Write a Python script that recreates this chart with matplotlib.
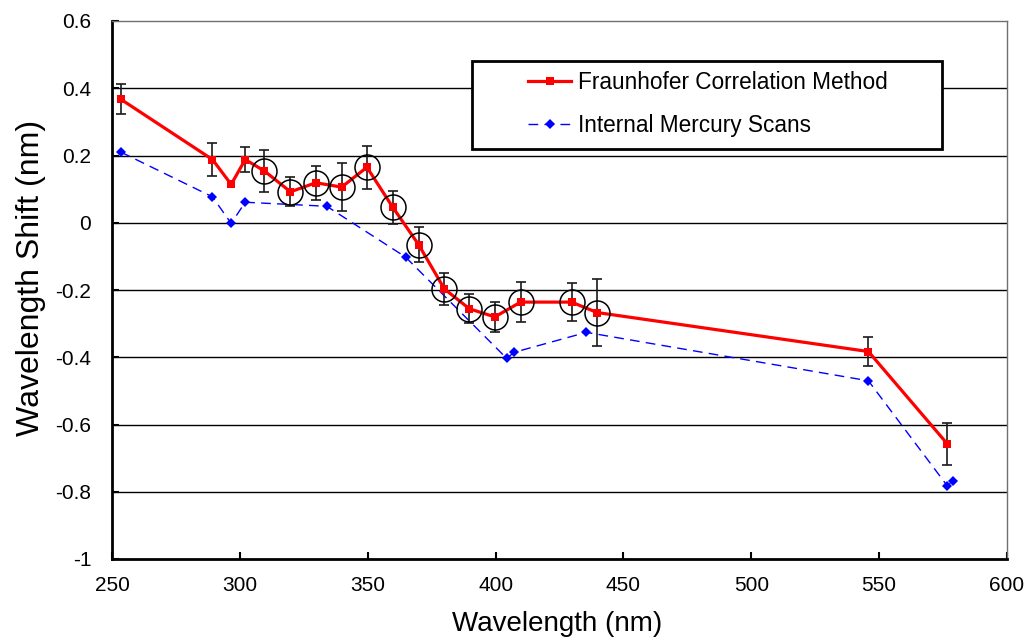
import matplotlib
matplotlib.use("Agg")
import matplotlib.pyplot as plt
import numpy as np
from matplotlib.patches import Rectangle

plt.rcParams['font.family'] = ['Liberation Sans', 'DejaVu Sans']
plt.rcParams['axes.unicode_minus'] = False

# Fraunhofer Correlation Method
fcm_wavelength = [253.5, 289.3, 296.6, 302.1, 309.6, 319.8, 329.7, 339.8, 349.7,
                  359.8, 369.9, 380.0, 389.8, 399.7, 409.8, 429.7, 439.7, 545.8, 576.6]
fcm_shift = [0.367, 0.188, 0.114, 0.188, 0.154, 0.092, 0.119, 0.106, 0.165,
             0.046, -0.065, -0.197, -0.256, -0.280, -0.236, -0.236, -0.267, -0.383, -0.657]
fcm_error = [0.045, 0.049, 0.0, 0.037, 0.062, 0.043, 0.050, 0.072, 0.064,
             0.049, 0.053, 0.049, 0.043, 0.045, 0.060, 0.057, 0.100, 0.043, 0.062]
fcm_circled = [False, False, False, False, True, True, True, True, True,
               True, True, True, True, True, True, True, True, False, False]

# Internal Mercury Scans
hg_wavelength = [253.5, 289.3, 296.6, 302.1, 334.0, 364.8, 404.3, 407.4, 435.5, 545.8, 576.6, 578.8]
hg_shift = [0.210, 0.077, -0.002, 0.061, 0.049, -0.102, -0.403, -0.385, -0.326, -0.470, -0.782, -0.769]

xticks = [250, 300, 350, 400, 450, 500, 550, 600]
yticks = [-1.0, -0.8, -0.6, -0.4, -0.2, 0.0, 0.2, 0.4, 0.6]
ytick_labels = ['-1', '-0.8', '-0.6', '-0.4', '-0.2', '0', '0.2', '0.4', '0.6']

fig = plt.figure(figsize=(10.26, 6.4), dpi=100)
ax = fig.add_axes([112/1026, 1 - 559/640, (1007 - 112)/1026, (559 - 21)/640])

ax.set_xlim(250, 600)
ax.set_ylim(-1, 0.6)

# gridlines
for yv in yticks[1:-1]:
    ax.axhline(yv, color='black', lw=1.0, zorder=1)

# series
ax.plot(hg_wavelength, hg_shift, color='#0000FF', lw=1.0, ls=(0, (7, 4.5)),
        marker='D', markersize=5, markeredgewidth=0, zorder=3,
        label='Internal Mercury Scans')
fx = np.array(fcm_wavelength)
fy = np.array(fcm_shift)
fe = np.array(fcm_error)
has_err = fe > 0
ax.errorbar(fx[has_err], fy[has_err], yerr=fe[has_err], fmt='none', ecolor='#1a1a1a',
            elinewidth=1.2, capsize=3.3, capthick=1.2, zorder=4)
ax.plot(fcm_wavelength, fcm_shift, color='#FF0000', lw=2.3, marker='s', markersize=6.3,
        markeredgewidth=0, zorder=5, label='Fraunhofer Correlation Method')
circ = np.array(fcm_circled)
ax.plot(fx[circ], fy[circ], ls='none', marker='o', markersize=18, markerfacecolor='none',
        markeredgecolor='black', markeredgewidth=1.1, zorder=6)

# spines
for s in ['left', 'bottom']:
    ax.spines[s].set_linewidth(2.0)
    ax.spines[s].set_color('black')
for s in ['top', 'right']:
    ax.spines[s].set_linewidth(1.0)
    ax.spines[s].set_color('#707070')

ax.set_xticks(xticks)
ax.set_xticklabels([str(v) for v in xticks])
ax.set_yticks(yticks)
ax.set_yticklabels(ytick_labels)
ax.tick_params(axis='both', direction='in', length=5, width=1.5, colors='black',
               labelsize=15)
ax.tick_params(axis='y', pad=15)
ax.tick_params(axis='x', pad=12)

ax.set_xlabel('Wavelength (nm)', fontsize=20)
ax.set_ylabel('Wavelength Shift (nm)', fontsize=23)
ax.xaxis.set_label_coords(0.497, -0.096)
ax.yaxis.set_label_coords(-0.074, 0.522)

# legend box
rect = Rectangle((472/1026, 1 - 149/640), (942 - 472)/1026, (149 - 61)/640,
                 transform=fig.transFigure, facecolor='white', edgecolor='black',
                 lw=2.0, zorder=7)
fig.patches.append(rect)

handles, labels = ax.get_legend_handles_labels()
order = [1, 0]
leg = fig.legend([handles[i] for i in order], [labels[i] for i in order],
                 loc='upper left', bbox_to_anchor=(528/1026, 1 - 71/640),
                 frameon=False, fontsize=16.3, handlelength=1.9, handletextpad=0.3,
                 labelspacing=0.88, borderpad=0, borderaxespad=0)
leg.set_zorder(8)

fig.savefig('out.png', dpi=100)
